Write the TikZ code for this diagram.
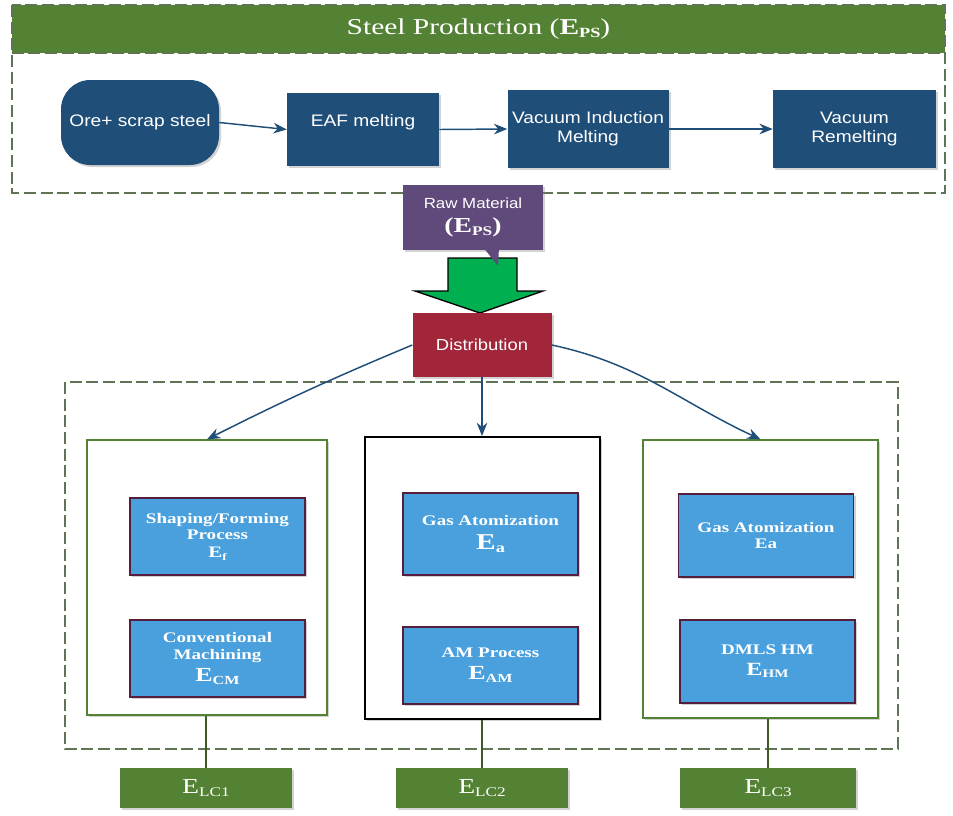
\documentclass[tikz,border=0pt]{standalone}
\usepackage{fontspec}
\usepackage{graphicx}
\setmainfont{Liberation Serif}[FakeStretch=1.3]
\newfontfamily\stepsans{Liberation Sans}[FakeStretch=1.15]
\usetikzlibrary{arrows.meta,shadows}

\definecolor{hdrgreen}{RGB}{84,130,53}
\definecolor{steelblue}{RGB}{31,78,121}
\definecolor{rawpurple}{RGB}{96,74,123}
\definecolor{distred}{RGB}{162,38,58}
\definecolor{procblue}{RGB}{74,160,220}
\definecolor{procedge}{RGB}{85,30,60}
\definecolor{dashgray}{RGB}{95,115,85}
\definecolor{flowgreen}{RGB}{0,176,80}

\newcommand{\lowsub}[1]{\raisebox{-0.3ex}{\scalebox{0.62}{#1}}}

\begin{document}
\begin{tikzpicture}[x=0.75pt,y=-0.75pt,
    shade/.style={drop shadow={shadow xshift=1.5pt,shadow yshift=-1.5pt,opacity=0.35}},
    stepbox/.style={shade,fill=steelblue,text=white,align=center,inner sep=2pt,
        font=\stepsans\fontsize{12.5}{14}\selectfont},
    procbox/.style={shade,fill=procblue,draw=procedge,line width=1pt,text=white,align=center,
        minimum width=131.25pt,font=\bfseries\fontsize{11}{12.5}\selectfont},
    lcbox/.style={shade,fill=hdrgreen,text=white,minimum width=129pt,minimum height=30pt,
        font=\fontsize{16}{18}\selectfont},
    route/.style={draw=hdrgreen,line width=1pt,fill=white,shade},
    frame/.style={draw=dashgray,line width=1.3pt,dash pattern=on 9pt off 3.5pt},
    flow/.style={draw=steelblue,line width=1.1pt,-{Stealth[length=10pt,width=8pt]}},
    tie/.style={draw=hdrgreen!70!black,line width=1.2pt}]
  \useasboundingbox (0,0) rectangle (953,815);

  % steel production
  \node[fill=hdrgreen,text=white,minimum width=699.75pt,minimum height=36pt,inner sep=0,
        font=\fontsize{17}{20}\selectfont] (title) at (478.5,29)
        {Steel Production (\textbf{E\lowsub{PS}})};
  \draw[frame] (12,5) rectangle (945,193);
  \draw[frame] (title.south west) -- (title.south east);

  \node[stepbox,rounded corners=22pt,minimum width=118.5pt,minimum height=63.75pt] (ore) at (140,122.5) {Ore+ scrap steel};
  \node[stepbox,minimum width=114pt,minimum height=54.75pt] (eaf) at (363,129.5) {EAF melting\\~};
  \node[stepbox,minimum width=120.75pt,minimum height=58.5pt] (vim) at (588,129) {Vacuum Induction\\Melting};
  \node[stepbox,minimum width=122.25pt,minimum height=58.5pt] (vr) at (854.5,129) {Vacuum\\Remelting};

  \draw[flow] (ore.east) -- (eaf.west);
  \draw[flow] (eaf.east) -- (vim.west);
  \draw[flow] (vim.east) -- (vr.west);

  % raw material and distribution
  \draw[fill=flowgreen,line width=1pt] (448,258) -- (517,258) -- (517,291) -- (543,291)
        -- (480,313) -- (415,291) -- (448,291) -- cycle;
  \node[shade,fill=rawpurple,text=white,align=center,minimum width=105pt,minimum height=48.75pt,
        font=\stepsans\fontsize{11}{14}\selectfont] (raw) at (473,217.5)
        {Raw Material\\[4pt]{\rmfamily\bfseries\fontsize{16}{16}\selectfont (E\lowsub{PS})}};
  \fill[rawpurple] (483,247) -- (498,266) -- (499,247) -- cycle;

  \draw[frame] (65,382) rectangle (898,749);
  \node[shade,fill=distred,text=white,minimum width=104.25pt,minimum height=48pt,
        font=\stepsans\fontsize{12}{14}\selectfont] (dist) at (482,345) {Distribution};

  % life cycle routes
  \node[route,minimum width=180pt,minimum height=206.25pt] (inL) at (207,577.5) {};
  \node[route,draw=black,line width=1.5pt,minimum width=176.25pt,minimum height=211.5pt] (inM) at (482,578) {};
  \node[route,minimum width=176.25pt,minimum height=208.5pt] (inR) at (760.5,579) {};

  \draw[flow] (dist.west) to[bend right=2] (inL.north);
  \draw[flow] (dist.south) -- (inM.north);
  \draw[flow] (dist.east) to[out=-12,in=155] (inR.north);

  \node[procbox,minimum height=57.75pt] (shaping) at (217.5,536.5) {Shaping/Forming\\Process\\[1pt]{\fontsize{12}{12}\selectfont E\lowsub{f}}};
  \node[procbox,minimum height=57.75pt] (machining) at (217.5,658.5) {Conventional\\Machining\\[4pt]{\fontsize{15}{15}\selectfont E\lowsub{CM}}};
  \node[procbox,minimum height=61.5pt] (gasM) at (490.5,534) {Gas Atomization\\[6pt]{\fontsize{17}{18}\selectfont E\lowsub{a}}};
  \node[procbox,minimum height=57.75pt] (amproc) at (490.5,665.5) {AM Process\\[4pt]{\fontsize{15}{15}\selectfont E\lowsub{AM}}};
  \node[procbox,minimum height=62.25pt] (gasR) at (766,535.5) {Gas Atomization\\Ea};
  \node[procbox,minimum height=62.25pt] (dmls) at (767.5,661.5) {DMLS HM\\[3pt]{\fontsize{14}{14}\selectfont E\lowsub{HM}}};

  \node[lcbox] (lc1) at (206,788) {E\lowsub{LC1}};
  \node[lcbox] (lc2) at (482,788) {E\lowsub{LC2}};
  \node[lcbox,minimum width=132pt] (lc3) at (768,788) {E\lowsub{LC3}};

  \draw[tie] (inL.south -| lc1.north) -- (lc1.north);
  \draw[tie] (inM.south -| lc2.north) -- (lc2.north);
  \draw[tie] (inR.south -| lc3.north) -- (lc3.north);
\end{tikzpicture}
\end{document}
